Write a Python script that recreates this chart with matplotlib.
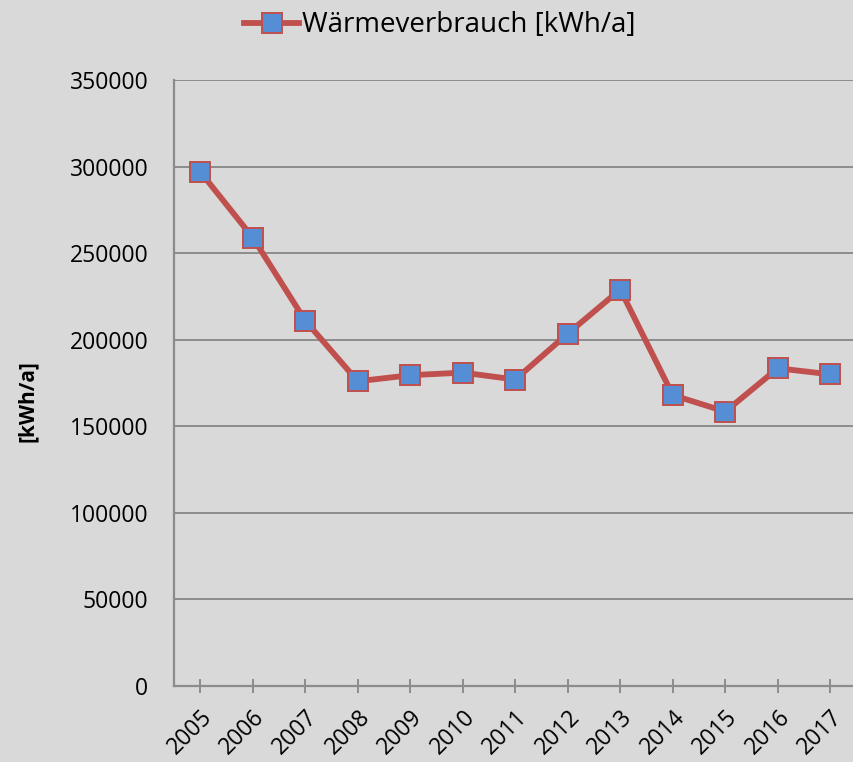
import matplotlib
matplotlib.use("Agg")
import matplotlib.pyplot as plt
from matplotlib.ticker import MultipleLocator

years = ["2005", "2006", "2007", "2008", "2009", "2010", "2011",
         "2012", "2013", "2014", "2015", "2016", "2017"]
waerme = [297000, 259000, 211000, 176000, 179500, 181000, 177000,
          203500, 229000, 168000, 158500, 183500, 180000]
series_name = "Wärmeverbrauch [kWh/a]"
y_label = "[kWh/a]"

plt.rcParams['font.family'] = ['Open Sans', 'DejaVu Sans']
bg = '#d9d9d9'
fig = plt.figure(figsize=(8.54, 7.62), dpi=100, facecolor=bg)
ax = fig.add_axes([174/854, 1-686/762, 1-174/854+0.003, (686-80)/762])
ax.set_facecolor(bg)

x = list(range(len(years)))
line, = ax.plot(x, waerme, color='#c0504d', lw=4.2, marker='s', ms=14,
                markerfacecolor='#558ed5', markeredgecolor='#c0504d', mew=1.4,
                label=series_name, zorder=3)

ax.set_xlim(-0.5, len(years) - 0.5)
ax.set_ylim(0, 350000)
ax.yaxis.set_major_locator(MultipleLocator(50000))
ax.grid(axis='y', color='#8c8c8c', lw=1.4)
ax.set_axisbelow(True)
for s in ['top', 'right']:
    ax.spines[s].set_visible(False)
for s in ['left', 'bottom']:
    ax.spines[s].set_color('#8c8c8c')
    ax.spines[s].set_linewidth(1.6)

ax.set_xticks(x)
ax.set_xticklabels(years, rotation=45, ha='right', rotation_mode='anchor', fontsize=16.5)
ax.tick_params(axis='x', direction='inout', length=9.5, width=1.4, color='#8c8c8c', pad=9)
for lbl in ax.get_xticklabels():
    lbl.set_x(lbl.get_position()[0])
ax.tick_params(axis='y', length=0, pad=18.5, labelsize=16.5)
ax.set_ylabel(y_label, fontsize=15, fontweight='bold')
ax.yaxis.set_label_coords(-0.2, 0.47)

fig.legend(handles=[line], loc='upper center', bbox_to_anchor=(0.515, 1.018),
           frameon=False, fontsize=20, handlelength=2.0, handletextpad=0.1)

fig.savefig('out.png', dpi=100, facecolor=bg)
